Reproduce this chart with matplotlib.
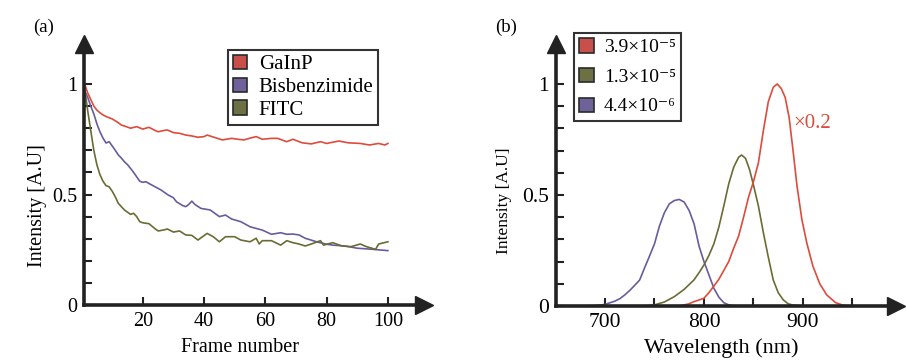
import matplotlib
matplotlib.use("Agg")
import matplotlib.pyplot as plt
from matplotlib.patches import Patch

plt.rcParams['font.family'] = ['Liberation Serif', 'DejaVu Serif']

# ---------------- Panel (a) data ----------------
gainp_frames = [1,2,3,4,5,6,7,8,10,12,13,14,16,18,20,22,24,25,27,28,30,32,34,36,38,40,41,43,46,49,51,53,55,57,59,62,64,67,69,72,75,78,80,84,87,91,94,97,99,100]
gainp_vals = [1.0,0.96,0.93,0.90,0.882,0.87,0.86,0.853,0.842,0.825,0.814,0.81,0.80,0.807,0.796,0.804,0.79,0.784,0.79,0.792,0.78,0.777,0.769,0.765,0.759,0.762,0.769,0.76,0.747,0.754,0.75,0.747,0.755,0.762,0.75,0.754,0.754,0.739,0.75,0.734,0.729,0.739,0.731,0.742,0.734,0.731,0.724,0.731,0.724,0.731]

bis_frames = [1,2,3,4,5,6,7,8,9,10,11,12,13,14,15,16,17,18,19,20,21,22,24,26,28,30,31,33,34,35,36,37,39,42,45,47,49,52,55,59,62,65,67,69,71,73,77,80,82,86,90,95,100]
bis_vals = [0.97,0.94,0.90,0.865,0.82,0.784,0.755,0.733,0.739,0.72,0.70,0.679,0.665,0.648,0.635,0.618,0.60,0.58,0.56,0.555,0.558,0.55,0.535,0.52,0.50,0.485,0.467,0.45,0.445,0.455,0.47,0.455,0.437,0.43,0.40,0.407,0.389,0.377,0.354,0.339,0.32,0.327,0.32,0.321,0.317,0.302,0.285,0.275,0.271,0.267,0.257,0.252,0.246]

fitc_frames = [1,2,3,4,5,6,7,8,9,10,11,12,13,14,15,16,17,18,19,20,22,24,25,27,28,30,32,34,36,38,41,43,45,47,50,52,55,57,58,59,62,65,67,69,71,73,75,78,79,82,85,88,91,93,96,97,100]
fitc_vals = [0.98,0.88,0.79,0.70,0.635,0.59,0.56,0.54,0.535,0.515,0.49,0.46,0.445,0.43,0.42,0.41,0.415,0.40,0.377,0.372,0.368,0.345,0.335,0.34,0.344,0.33,0.335,0.317,0.315,0.294,0.324,0.309,0.286,0.309,0.309,0.294,0.286,0.302,0.276,0.291,0.291,0.271,0.291,0.282,0.276,0.267,0.276,0.291,0.271,0.282,0.267,0.264,0.276,0.264,0.252,0.276,0.286]

labels_a = ['GaInP', 'Bisbenzimide', 'FITC']

# ---------------- Panel (b) data ----------------
wl_44 = [680,690,700,710,715,720,725,730,735,740,745,750,755,760,765,770,775,780,785,790,795,800,805,810,815,820,825,830,840]
int_44 = [0.0,0.002,0.007,0.022,0.033,0.05,0.07,0.093,0.117,0.172,0.225,0.28,0.36,0.42,0.46,0.475,0.48,0.468,0.43,0.37,0.27,0.2,0.14,0.08,0.04,0.015,0.005,0.001,0.0]

wl_13 = [740,750,760,770,780,790,795,800,805,810,815,820,825,830,835,838,842,846,850,855,860,865,870,875,880,885,890,900]
int_13 = [0.0,0.005,0.018,0.042,0.075,0.118,0.15,0.185,0.228,0.28,0.355,0.45,0.55,0.625,0.67,0.68,0.665,0.615,0.545,0.45,0.33,0.22,0.117,0.06,0.028,0.01,0.004,0.0]

wl_39 = [775,785,790,795,800,805,810,815,820,825,830,835,840,845,850,855,860,865,870,874,878,882,886,890,894,899,904,910,917,924,933,941,950]
int_39 = [0.0,0.01,0.02,0.027,0.035,0.06,0.09,0.12,0.16,0.2,0.26,0.315,0.4,0.49,0.56,0.645,0.79,0.92,0.985,1.0,0.98,0.94,0.85,0.70,0.54,0.387,0.282,0.18,0.10,0.05,0.015,0.003,0.0]

labels_b = ['3.9\u00d710\u207b\u2075', '1.3\u00d710\u207b\u2075', '4.4\u00d710\u207b\u2076']

RED, PUR, OLV = '#dd4b3c', '#6a5c9c', '#6b6b35'
RED_P, PUR_P, OLV_P = '#c9504a', '#6f6199', '#6d7042'
AX = '#222222'

W, H = 906, 361
fig = plt.figure(figsize=(W/100, H/100), dpi=100)

def frac(x0, y0, x1, y1):
    return [x0/W, 1 - y1/H, (x1-x0)/W, (y1-y0)/H]

def style_axes(ax):
    for s in ['top', 'right']:
        ax.spines[s].set_visible(False)
    for s in ['left', 'bottom']:
        ax.spines[s].set_linewidth(2.6)
        ax.spines[s].set_color(AX)
    ax.plot(1, 0, '>', color=AX, ms=13, transform=ax.transAxes, clip_on=False)
    ax.plot(0, 1, '^', color=AX, ms=13, transform=ax.transAxes, clip_on=False)

# ---------------- Panel (a) ----------------
axa = fig.add_axes(frac(84, 44, 424, 305))
style_axes(axa)
axa.plot(gainp_frames, gainp_vals, color=RED, lw=1.2)
axa.plot(bis_frames, bis_vals, color=PUR, lw=1.2)
axa.plot(fitc_frames, fitc_vals, color=OLV, lw=1.2)
axa.set_xlim(0.8, 111.8)
axa.set_ylim(0, 1.181)
axa.set_xticks([20, 40, 60, 80, 100])
axa.set_yticks([0, 0.5, 1])
axa.set_yticklabels(['0', '0.5', '1'])
axa.set_yticks([0.1,0.2,0.3,0.4,0.6,0.7,0.8,0.9], minor=True)
axa.tick_params(axis='both', direction='in', length=6, width=1.5, color=AX, labelsize=14.5, pad=5)
axa.tick_params(axis='y', which='minor', direction='in', length=6, width=1.5, color=AX)
axa.set_xlabel('Frame number', fontsize=14.5)
axa.xaxis.set_label_coords(0.46, -0.125)
axa.set_ylabel('Intensity [A.U]', fontsize=14.5)
axa.yaxis.set_label_coords(-0.11, 0.38)
handles_a = [Patch(facecolor=c, edgecolor='#2a2a2a', lw=1.2) for c in (RED_P, PUR_P, OLV_P)]
lga = axa.legend(handles_a, labels_a, loc='upper left', bbox_to_anchor=(228/W, 1-50/H),
                 bbox_transform=fig.transFigure, fontsize=15, handlelength=0.7, handleheight=0.7,
                 labelspacing=0.16, handletextpad=0.55, borderpad=0.22, borderaxespad=0,
                 fancybox=False, framealpha=1)
lga.get_frame().set_edgecolor('#333333')
lga.get_frame().set_linewidth(1.5)
fig.text(33/W, 1-27/H, '(a)', fontsize=13.5, va='center', ha='left')

# ---------------- Panel (b) ----------------
axb = fig.add_axes(frac(556, 44, 896, 306))
style_axes(axb)
axb.plot(wl_44, int_44, color=PUR, lw=1.2)
axb.plot(wl_13, int_13, color=OLV, lw=1.2)
axb.plot(wl_39, int_39, color=RED, lw=1.2)
axb.set_xlim(650.5, 994)
axb.set_ylim(0, 1.18)
axb.set_xticks([700, 800, 900])
axb.set_xticks([750, 850, 950], minor=True)
axb.set_yticks([0, 0.5, 1])
axb.set_yticklabels(['0', '0.5', '1'])
axb.set_yticks([0.1,0.2,0.3,0.4,0.6,0.7,0.8,0.9], minor=True)
axb.tick_params(axis='both', which='both', direction='in', length=6, width=1.5, color=AX)
axb.tick_params(axis='both', which='major', labelsize=15.5, pad=5)
axb.set_xlabel('Wavelength (nm)', fontsize=16)
axb.xaxis.set_label_coords(0.485, -0.125)
axb.set_ylabel('Intensity [A.U]', fontsize=12.5)
axb.yaxis.set_label_coords(-0.13, 0.40)
axb.text(890, 0.824, '\u00d70.2', color=RED, fontsize=15, va='center', ha='left')
handles_b = [Patch(facecolor=c, edgecolor='#2a2a2a', lw=1.2) for c in (RED_P, OLV_P, PUR_P)]
lgb = axb.legend(handles_b, labels_b, loc='upper left', bbox_to_anchor=(574/W, 1-33/H),
                 bbox_transform=fig.transFigure, fontsize=14, handlelength=0.75, handleheight=0.75,
                 labelspacing=0.6, handletextpad=0.5, borderpad=0.28, borderaxespad=0,
                 fancybox=False, framealpha=1)
lgb.get_frame().set_edgecolor('#333333')
lgb.get_frame().set_linewidth(1.5)
fig.text(495/W, 1-27/H, '(b)', fontsize=13.5, va='center', ha='left')

fig.savefig('out.png', dpi=100)
